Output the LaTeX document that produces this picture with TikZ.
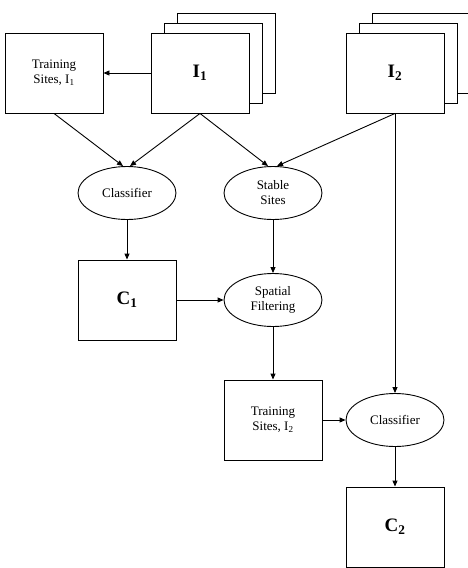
\documentclass[tikz,border=0pt]{standalone}
\usepackage{fontspec}
\setmainfont{Liberation Serif}
\usetikzlibrary{shapes.geometric,arrows.meta}

\tikzset{
    box/.style={draw, rectangle, fill=white, minimum width=98pt, minimum height=80pt,
        align=center, font=\fontsize{13}{15}\selectfont},
    bigbox/.style={box, font=\fontsize{19}{21}\selectfont\bfseries},
    oval/.style={draw, ellipse, minimum width=98pt, minimum height=53pt,
        align=center, font=\fontsize{13}{15}\selectfont},
    flow/.style={-{Triangle[length=6pt,width=5pt]}}
}

\begin{document}
\begin{tikzpicture}[x=1pt, y=-1pt, line width=0.9pt]
    \useasboundingbox (0,0) rectangle (467,568);
    % Image stacks behind the two images
    \foreach \s in {2,1} {
        \draw[fill=white] (151+13*\s, 33-10*\s) rectangle ++(98,80);
        \draw[fill=white] (346+13*\s, 33-10*\s) rectangle ++(98,80);
    }
    % Nodes
    \node[box] (train1) at (54,73) {Training\\Sites, I\textsubscript{1}};
    \node[bigbox] (img1) at (200,73) {I\textsubscript{1}};
    \node[bigbox] (img2) at (395,73) {I\textsubscript{2}};
    \node[oval] (class1) at (127,193) {Classifier};
    \node[oval] (stable) at (273,193) {Stable\\Sites};
    \node[bigbox] (cmap1) at (127,300) {C\textsubscript{1}};
    \node[oval] (spatial) at (273,300) {Spatial\\Filtering};
    \node[box] (train2) at (273,420) {Training\\Sites, I\textsubscript{2}};
    \node[oval] (class2) at (395,420) {Classifier};
    \node[bigbox] (cmap2) at (395,527) {C\textsubscript{2}};
    % Connectors
    \draw[flow] (img1.west) -- (train1.east);
    \draw[flow] (train1.south) -- ([xshift=-4pt]class1.north);
    \draw[flow] (img1.south) -- ([xshift=3pt]class1.north);
    \draw[flow] (img1.south) -- ([xshift=-5pt]stable.north);
    \draw[flow] (img2.south) -- ([xshift=4pt]stable.north);
    \draw[flow] (img2.south) -- (class2.north);
    \draw[flow] (class1.south) -- (cmap1.north);
    \draw[flow] (stable.south) -- (spatial.north);
    \draw[flow] (cmap1.east) -- (spatial.west);
    \draw[flow] (spatial.south) -- (train2.north);
    \draw[flow] (train2.east) -- (class2.west);
    \draw[flow] (class2.south) -- (cmap2.north);
\end{tikzpicture}
\end{document}
